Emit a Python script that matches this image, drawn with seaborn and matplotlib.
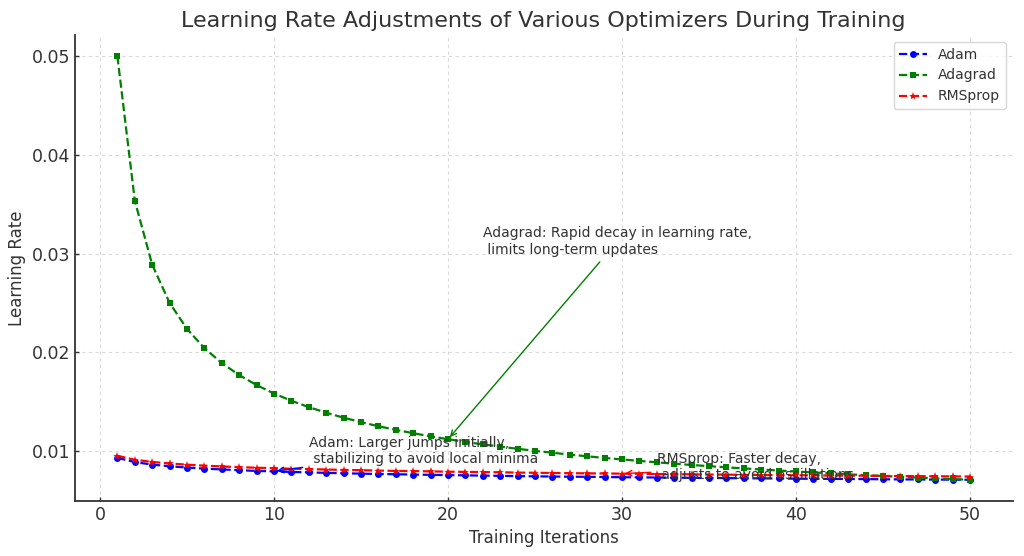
import matplotlib
matplotlib.use("Agg")
import matplotlib.pyplot as plt
import pandas as pd
import seaborn as sns

# values
iterations = list(range(1, 51))
adam = [0.00930, 0.00886, 0.00861, 0.00844, 0.00831, 0.00820, 0.00812, 0.00804, 0.00797, 0.00792,
        0.00786, 0.00782, 0.00777, 0.00773, 0.00769, 0.00766, 0.00763, 0.00760, 0.00757, 0.00754,
        0.00752, 0.00749, 0.00747, 0.00744, 0.00742, 0.00740, 0.00738, 0.00737, 0.00735, 0.00733,
        0.00731, 0.00730, 0.00728, 0.00727, 0.00725, 0.00724, 0.00722, 0.00721, 0.00720, 0.00718,
        0.00717, 0.00716, 0.00715, 0.00714, 0.00712, 0.00711, 0.00710, 0.00709, 0.00708, 0.00707]
adagrad = [0.05000, 0.03536, 0.02887, 0.02500, 0.02236, 0.02041, 0.01890, 0.01768, 0.01667, 0.01581,
           0.01508, 0.01443, 0.01387, 0.01336, 0.01291, 0.01250, 0.01213, 0.01179, 0.01147, 0.01118,
           0.01091, 0.01066, 0.01043, 0.01021, 0.01000, 0.00981, 0.00962, 0.00945, 0.00928, 0.00913,
           0.00898, 0.00884, 0.00870, 0.00857, 0.00845, 0.00833, 0.00822, 0.00811, 0.00801, 0.00791,
           0.00781, 0.00772, 0.00762, 0.00754, 0.00745, 0.00737, 0.00729, 0.00722, 0.00714, 0.00707]
rmsprop = [0.00950, 0.00910, 0.00888, 0.00872, 0.00860, 0.00850, 0.00842, 0.00835, 0.00829, 0.00824,
           0.00819, 0.00815, 0.00811, 0.00807, 0.00804, 0.00800, 0.00797, 0.00795, 0.00792, 0.00789,
           0.00787, 0.00785, 0.00783, 0.00780, 0.00778, 0.00776, 0.00774, 0.00772, 0.00771, 0.00769,
           0.00767, 0.00765, 0.00764, 0.00762, 0.00760, 0.00759, 0.00757, 0.00756, 0.00754, 0.00753,
           0.00752, 0.00750, 0.00749, 0.00748, 0.00746, 0.00745, 0.00744, 0.00743, 0.00741, 0.00740]

optimizers = ['Adam', 'Adagrad', 'RMSprop']
colors = {'Adam': 'blue', 'Adagrad': 'green', 'RMSprop': 'red'}
markers = {'Adam': 'o', 'Adagrad': 's', 'RMSprop': '*'}

df = pd.DataFrame({'Iteration': iterations, 'Adam': adam, 'Adagrad': adagrad, 'RMSprop': rmsprop})
df = df.melt(id_vars='Iteration', var_name='Optimizer', value_name='LR')

sns.set_style('whitegrid', {
    'grid.color': '#dadada',
    'grid.linestyle': (0, (3, 3)),
    'axes.edgecolor': '#333333',
    'xtick.direction': 'in',
    'ytick.direction': 'in',
})
plt.rcParams['font.family'] = ['DejaVu Sans']
plt.rcParams['text.color'] = '#333333'
plt.rcParams['axes.labelcolor'] = '#333333'
plt.rcParams['xtick.color'] = '#333333'
plt.rcParams['ytick.color'] = '#333333'
plt.rcParams['grid.linewidth'] = 0.8

fig, ax = plt.subplots(figsize=(10.24, 5.56), dpi=100)
fig.subplots_adjust(left=0.073, right=0.989, top=0.937, bottom=0.099)

for name in optimizers:
    sub = df[df['Optimizer'] == name]
    sns.lineplot(ax=ax, data=sub, x='Iteration', y='LR', label=name, color=colors[name],
                 marker=markers[name], markersize=5 if name != 'RMSprop' else 6,
                 markeredgewidth=0, linestyle='--', linewidth=1.6)

ax.annotate('Adam: Larger jumps initially,\n stabilizing to avoid local minima',
            xy=(10, adam[9]), xytext=(12, 0.0088), fontsize=10, color='#333333',
            arrowprops=dict(arrowstyle='->', color='blue'))
ax.annotate('Adagrad: Rapid decay in learning rate,\n limits long-term updates',
            xy=(20, adagrad[19]), xytext=(22, 0.030), fontsize=10, color='#333333',
            arrowprops=dict(arrowstyle='->', color='green'))
ax.annotate('RMSprop: Faster decay,\n adjusts to avoid oscillations',
            xy=(30, rmsprop[29]), xytext=(32, 0.0071), fontsize=10, color='#333333',
            arrowprops=dict(arrowstyle='->', color='red'))

ax.set_title('Learning Rate Adjustments of Various Optimizers During Training', fontsize=16, color='#333333')
ax.set_xlabel('Training Iterations', fontsize=12)
ax.set_ylabel('Learning Rate', fontsize=12)
ax.tick_params(labelsize=12.5, length=3, width=1, bottom=True, left=True)
ax.set_xticks([0, 10, 20, 30, 40, 50])
ax.set_yticks([0.01, 0.02, 0.03, 0.04, 0.05])
for side in ['top', 'right']:
    ax.spines[side].set_visible(False)
for side in ['left', 'bottom']:
    ax.spines[side].set_linewidth(1.3)
ax.legend(loc='upper right', fontsize=10, frameon=True, edgecolor='#cccccc')

fig.savefig('out.png', dpi=100)
